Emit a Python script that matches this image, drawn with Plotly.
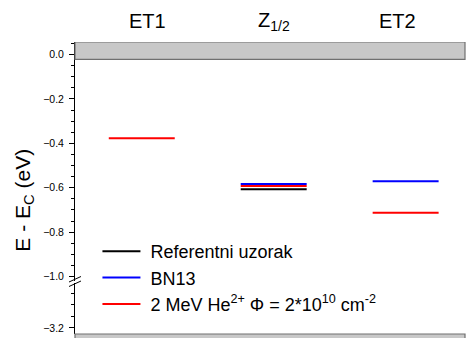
import plotly.graph_objects as go

# ---------------- data ----------------
categories = ["ET1", "Z<sub>1/2</sub>", "ET2"]
series_names = [
    "Referentni uzorak",
    "BN13",
    "2 MeV He<sup>2+</sup> \u03a6 = 2*10<sup>10</sup> cm<sup>-2</sup>",
]
series_colors = ["#000000", "#0000ff", "#ff0000"]
ref_vals = [None, -0.607, None]
bn13_vals = [None, -0.583, -0.571]
he_vals = [-0.377, -0.592, -0.713]
series_vals = [ref_vals, bn13_vals, he_vals]
upper_ticks = [0.0, -0.2, -0.4, -0.6, -0.8, -1.0]
lower_ticks = [-3.2]
conduction_band_bottom = -0.022

# ---------------- geometry ----------------
W, H = 466, 338
L, R, T, B = 74.5, 0.5, 42, 4
plot_h = H - T - B
plot_w = W - L - R
HALF = 0.25  # half width of a level line in category units


def py(pix):  # pixel y -> paper y
    return (H - B - pix) / plot_h


def px(pix):  # pixel x -> paper x
    return (pix - L) / plot_w


fig = go.Figure()

# draw order: black, red, blue (blue on top)
order = [0, 2, 1]
for k in order:
    xs, ys = [], []
    for i, v in enumerate(series_vals[k]):
        if v is None:
            continue
        c = i + 1
        xs += [c - HALF, c + HALF, None]
        ys += [v, v, None]
    fig.add_trace(go.Scatter(
        x=xs, y=ys, mode="lines", name="\u00a0" + series_names[k],
        line=dict(color=series_colors[k], width=2),
        xaxis="x", yaxis="y", legendrank=k + 1,
    ))

# dummy trace for lower axis segment
fig.add_trace(go.Scatter(x=[None], y=[None], xaxis="x", yaxis="y2",
                         showlegend=False, hoverinfo="skip"))

font = "Arial, Liberation Sans, sans-serif"
axis_common = dict(
    showline=True, linecolor="black", linewidth=1,
    ticks="outside", ticklen=5, tickwidth=1, tickcolor="black",
    tickfont=dict(family=font, size=10.5, color="black"),
    tickformat=".1f", showgrid=False, zeroline=False,
    ticklabelstandoff=3,
    minor=dict(ticks="outside", ticklen=3, tickwidth=1, tickcolor="black", dtick=0.05),
)

upper_top = (54.5 - 42) / 222
fig.update_layout(
    width=W, height=H,
    margin=dict(l=L, r=R, t=T, b=B, pad=0),
    paper_bgcolor="white", plot_bgcolor="white",
    showlegend=True,
    legend=dict(
        x=px(97), y=py(233), xanchor="left", yanchor="top",
        bgcolor="rgba(0,0,0,0)", borderwidth=0,
        font=dict(family=font, size=18, color="black"),
        itemwidth=38, traceorder="normal",
    ),
    xaxis=dict(range=[0.494, 3.45], domain=[0, 1], anchor="y2",
               showline=False, showticklabels=False, ticks="",
               showgrid=False, zeroline=False),
    yaxis=dict(domain=[py(281), 1], range=[-1.02, upper_top],
               tickvals=upper_ticks, anchor="x", **axis_common),
    yaxis2=dict(domain=[0, py(283)], range=[-3.226, -3.007],
                tickvals=lower_ticks, anchor="x", **axis_common),
)

shapes = []
# conduction band (top gray band)
shapes.append(dict(type="rect", xref="paper", yref="y", x0=0, x1=1,
                   y0=conduction_band_bottom, y1=upper_top,
                   fillcolor="#c8c8c8", line=dict(color="#707070", width=1.2),
                   layer="above"))
# valence band (bottom gray band)
shapes.append(dict(type="rect", xref="paper", yref="paper", x0=0, x1=1,
                   y0=py(340), y1=0,
                   fillcolor="#c8c8c8", line=dict(color="#707070", width=1.2),
                   layer="above"))
# axis break marks
for dy in (0, 4.5):
    shapes.append(dict(type="line", xref="paper", yref="paper",
                       x0=px(68.5), y0=py(282 + dy), x1=px(80.5), y1=py(276.5 + dy),
                       line=dict(color="black", width=1)))
fig.update_layout(shapes=shapes)

# category titles above the plot
title_x = [1.04, 2.0, 2.94]
for i, name in enumerate(categories):
    fig.add_annotation(x=title_x[i], xref="x", y=py(21), yref="paper",
                       text=name, showarrow=False, xanchor="center", yanchor="middle",
                       font=dict(family=font, size=20, color="black"))

# y axis title
fig.add_annotation(x=px(23), xref="paper", y=py(200), yref="paper",
                   text="E - E<sub>C</sub> (eV)", textangle=-90, showarrow=False,
                   xanchor="center", yanchor="middle",
                   font=dict(family=font, size=21, color="black"))

fig.write_html("out.html",
               config={"displayModeBar": False},
               post_script="document.body.style.margin='0';document.body.style.padding='0';")
